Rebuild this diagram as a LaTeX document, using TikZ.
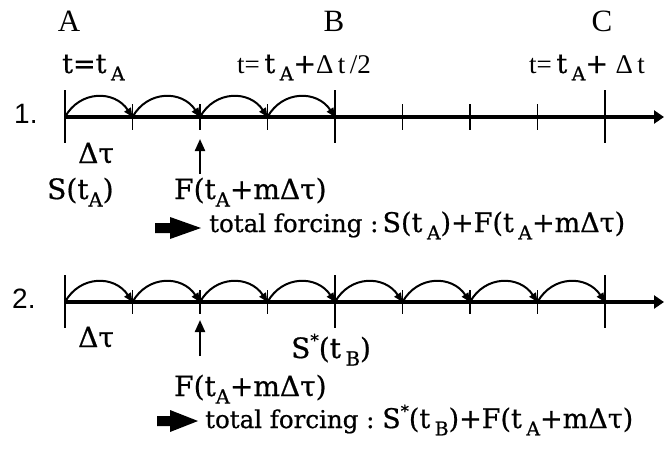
\documentclass[tikz,border=0pt]{standalone}
\usepackage{fontspec}
\setmainfont{DejaVu Serif}[FakeBold=0.7]
\newfontfamily\timesf{Liberation Serif}
\newfontfamily\helvf{Liberation Sans}
\usetikzlibrary{arrows.meta}
\newcommand\lsub[1]{\raisebox{-0.27em}{\scalebox{0.7}{#1}}}
\newcommand\sstar{\raisebox{0.42em}{\scalebox{0.6}{*}}}
\tikzset{
  lbl/.style={inner sep=0pt, anchor=base west},
  letter/.style={inner sep=0pt, anchor=base, font=\timesf\fontsize{31}{31}\selectfont},
  num/.style={inner sep=0pt, anchor=base west, font=\helvf\fontsize{28}{28}\selectfont},
  axisline/.style={line width=3.5pt, -{Triangle[length=10pt,width=13pt]}},
  major/.style={line width=1.2pt},
  minor/.style={line width=1.2pt},
  hop/.style={line width=2pt, -{Triangle[length=9pt,width=7.5pt]}},
  uparrow/.style={line width=2.2pt, -{Triangle[length=12pt,width=10pt]}},
  big/.style={font=\fontsize{28}{28}\selectfont},
  top/.style={font=\fontsize{27}{27}\selectfont},
  small/.style={font=\fontsize{24.5}{24.5}\selectfont},
  formula/.style={font=\fontsize{27}{27}\selectfont},
}
\begin{document}
\begin{tikzpicture}[x=1pt,y=-1pt]
\useasboundingbox (0,0) rectangle (664,448);
% tick coordinates
\foreach \i in {0,...,8} {
  \coordinate (a\i) at ({65+67.5*\i},117);
  \coordinate (b\i) at ({65+67.5*\i},302);
}
\coordinate (aend) at (664,117);
\coordinate (bend) at (664,302);
% axes
\draw[axisline] (a0) -- (aend);
\draw[axisline] (b0) -- (bend);
% ticks
\foreach \i in {0,4,8} {
  \draw[major] ([yshift=27pt]a\i) -- ([yshift=-26pt]a\i);
  \draw[major] ([yshift=27pt]b\i) -- ([yshift=-26pt]b\i);
}
\foreach \i in {1,2,3,5,6,7} {
  \draw[minor] ([yshift=13pt]a\i) -- ([yshift=-13pt]a\i);
  \draw[minor] ([yshift=12pt]b\i) -- ([yshift=-12pt]b\i);
}
% hops
\foreach \i [evaluate=\i as \j using int(\i+1)] in {0,...,3} {
  \draw[hop] (a\i) .. controls ([xshift=15pt,yshift=27pt]a\i) and ([xshift=-18pt,yshift=27pt]a\j) .. (a\j);
}
\foreach \i [evaluate=\i as \j using int(\i+1)] in {0,...,7} {
  \draw[hop] (b\i) .. controls ([xshift=15pt,yshift=27pt]b\i) and ([xshift=-18pt,yshift=27pt]b\j) .. (b\j);
}
% letters
\node[letter] (A) at (69,31) {A};
\node[letter] (B) at (334,31) {B};
\node[letter] (C) at (602,31) {C};
% time labels
\node[lbl, top] (tA) at (62,73) {t=t\,\lsub{A}};
\node[lbl, top] (tB) at (237,73) {{\timesf t=}\,t\,\lsub{A}+{\timesf\char"0394\,t\,/2}};
\node[lbl, top] (tC) at (529,73) {{\timesf t=}\,t\,\lsub{A}+\;{\timesf\char"0394\,t}};
% row numbers
\node[num] (n1) at (14,123) {1.};
\node[num] (n2) at (12,308) {2.};
% row 1 labels
\node[lbl, big] (dt1) at (78,163) {Δτ};
\node[lbl, big] (S1) at (47,199) {S(t\lsub{A})};
\node[lbl, big] (F1) at (174,199) {F(t\lsub{A}+mΔτ)};
\coordinate (up1s) at (200,174);
\draw[uparrow] (up1s) -- (a2 |- 0,139);
% row 1 total
\node[lbl, small] (T1) at (209,232) {total forcing :\,{\fontsize{27}{27}\selectfont S(t\,\lsub{A})+F(t\,\lsub{A}+mΔτ)}};
\fill (155,223) rectangle (170,233) (170,217) -- (201,228) -- (170,239) -- cycle;
% row 2 labels
\node[lbl, big] (dt2) at (78,347) {Δτ};
\node[lbl, big] (S2) at (291,358) {S\sstar(t\,\lsub{B})};
\node[lbl, big] (F2) at (174,396) {F(t\lsub{A}+mΔτ)};
\coordinate (up2s) at (200,356);
\draw[uparrow] (up2s) -- (b2 |- 0,320);
% row 2 total
\node[lbl, small] (T2) at (205,428) {total forcing :\ {\fontsize{27}{27}\selectfont S\sstar(t\,\lsub{B})+F(t\,\lsub{A}+mΔτ)}};
\fill (157,416) rectangle (170,426) (170,410) -- (198,421) -- (170,432) -- cycle;
\end{tikzpicture}
\end{document}
